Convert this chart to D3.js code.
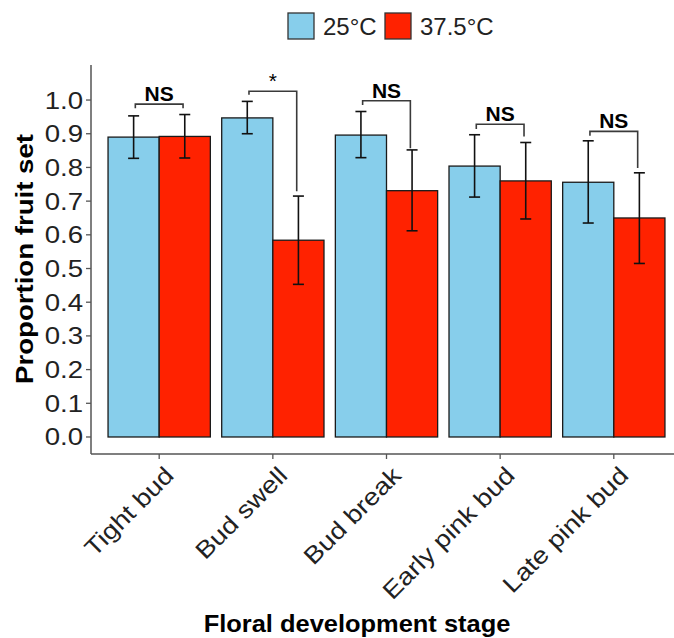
<!DOCTYPE html>
<html>
<head>
<meta charset="utf-8">
<script src="https://d3js.org/d3.v7.min.js"></script>
<style>
	body{margin:0;background:#fff;}
	text{font-family:"Liberation Sans", Arial, sans-serif;}
</style>
</head>
<body>
<div id="chart"></div>
<script>
var stages = ["Tight bud", "Bud swell", "Bud break", "Early pink bud", "Late pink bud"];
var temps = ["25°C", "37.5°C"];
var colors = ["#87ceeb", "#ff2200"];

var mean25 = [0.890, 0.947, 0.896, 0.804, 0.756];
var low25  = [0.827, 0.900, 0.829, 0.712, 0.635];
var high25 = [0.953, 0.996, 0.966, 0.897, 0.879];

var mean37 = [0.892, 0.584, 0.731, 0.760, 0.650];
var low37  = [0.828, 0.453, 0.612, 0.647, 0.515];
var high37 = [0.957, 0.715, 0.852, 0.874, 0.784];

var bracketTop   = [0.988, 1.026, 0.998, 0.928, 0.907];
var bracketLeft  = [0.976, 1.016, 0.985, 0.914, 0.894];
var bracketRight = [0.976, 0.729, 0.857, 0.892, 0.798];
var bracketLabel = ["NS", "*", "NS", "NS", "NS"];

var yTicks = [0.0, 0.1, 0.2, 0.3, 0.4, 0.5, 0.6, 0.7, 0.8, 0.9, 1.0];

drawChart();

function drawChart(){
	var width = 674;
	var height = 638;
	var pLeft = 91, pRight = 682, pTop = 65, pBottom = 454;

	var svg = d3.select("#chart")
					.append("svg")
					.attr("width", width+"px")
					.attr("height", height+"px");

	var x = d3.scaleBand()
				.domain(stages)
				.range([pLeft, pRight])
				.paddingInner(0)
				.paddingOuter(0.1);

	var step = x.step();

	var xGroup = d3.scaleBand()
				.domain(temps)
				.range([-0.45*step, 0.45*step]);

	var y = d3.scaleLinear()
				.domain([-0.0505, 1.104])
				.range([pBottom, pTop]);

	var flat = [];
	stages.forEach(function(s,i){
		flat.push({stage:s, temp:temps[0], mean:mean25[i], low:low25[i], high:high25[i], c:colors[0]});
		flat.push({stage:s, temp:temps[1], mean:mean37[i], low:low37[i], high:high37[i], c:colors[1]});
	});

	function barX(d){ return x(d.stage) + step/2 + xGroup(d.temp); }
	function barMid(d){ return barX(d) + xGroup.bandwidth()/2; }

	// bars
	svg.append("g").selectAll("rect")
		.data(flat)
		.enter()
		.append("rect")
		.attr("x", barX)
		.attr("y", function(d){ return y(d.mean); })
		.attr("width", xGroup.bandwidth())
		.attr("height", function(d){ return y(0) - y(d.mean); })
		.attr("fill", function(d){ return d.c; })
		.attr("stroke", "#1a1a1a")
		.attr("stroke-width", 1.3);

	// error bars
	var capW = 5.5;
	var err = svg.append("g")
					.attr("stroke", "#111")
					.attr("stroke-width", 1.6);

	err.selectAll("line.v")
		.data(flat)
		.enter()
		.append("line")
		.attr("class", "v")
		.attr("x1", barMid).attr("x2", barMid)
		.attr("y1", function(d){ return y(d.low); })
		.attr("y2", function(d){ return y(d.high); });

	err.selectAll("line.t")
		.data(flat)
		.enter()
		.append("line")
		.attr("class", "t")
		.attr("x1", function(d){ return barMid(d)-capW; })
		.attr("x2", function(d){ return barMid(d)+capW; })
		.attr("y1", function(d){ return y(d.high); })
		.attr("y2", function(d){ return y(d.high); });

	err.selectAll("line.b")
		.data(flat)
		.enter()
		.append("line")
		.attr("class", "b")
		.attr("x1", function(d){ return barMid(d)-capW; })
		.attr("x2", function(d){ return barMid(d)+capW; })
		.attr("y1", function(d){ return y(d.low); })
		.attr("y2", function(d){ return y(d.low); });

	// significance brackets
	var legOff = 0.21*step;
	var br = svg.append("g");
	stages.forEach(function(s,i){
		var cx = x(s) + step/2;
		br.append("path")
			.attr("d", "M" + (cx-legOff) + "," + y(bracketLeft[i]) +
						"V" + y(bracketTop[i]) +
						"H" + (cx+legOff) +
						"V" + y(bracketRight[i]))
			.attr("fill", "none")
			.attr("stroke", "#3a3a3a")
			.attr("stroke-width", 1.6);

		br.append("text")
			.attr("text-anchor", "middle")
			.attr("x", cx)
			.attr("y", y(bracketTop[i]) - 3)
			.style("font-size", 21+"px")
			.style("font-weight", bracketLabel[i] == "*" ? "normal" : "bold")
			.attr("fill", "#000")
			.text(bracketLabel[i]);
	});

	// axes
	var axisColor = "#555";
	svg.append("line")
		.attr("x1", pLeft).attr("x2", pLeft)
		.attr("y1", pTop).attr("y2", pBottom)
		.attr("stroke", axisColor)
		.attr("stroke-width", 1.5);

	svg.append("line")
		.attr("x1", pLeft).attr("x2", pRight)
		.attr("y1", pBottom).attr("y2", pBottom)
		.attr("stroke", axisColor)
		.attr("stroke-width", 1.5);

	var yAxis = svg.append("g");
	yAxis.selectAll("line")
		.data(yTicks)
		.enter()
		.append("line")
		.attr("x1", pLeft-5).attr("x2", pLeft)
		.attr("y1", function(d){ return y(d); })
		.attr("y2", function(d){ return y(d); })
		.attr("stroke", axisColor)
		.attr("stroke-width", 1.3);

	yAxis.selectAll("text")
		.data(yTicks)
		.enter()
		.append("text")
		.attr("text-anchor", "end")
		.attr("transform", function(d){ return "translate(" + (pLeft-8) + "," + (y(d)+8.5) + ") scale(1.15,1)"; })
		.style("font-size", 24+"px")
		.attr("fill", "#222")
		.text(function(d){ return d3.format(".1f")(d); });

	var xAxis = svg.append("g");
	xAxis.selectAll("line")
		.data(stages)
		.enter()
		.append("line")
		.attr("x1", function(d){ return x(d)+step/2; })
		.attr("x2", function(d){ return x(d)+step/2; })
		.attr("y1", pBottom).attr("y2", pBottom+5)
		.attr("stroke", axisColor)
		.attr("stroke-width", 1.3);

	xAxis.selectAll("text")
		.data(stages)
		.enter()
		.append("text")
		.attr("text-anchor", "end")
		.attr("transform", function(d){
			return "translate(" + (x(d)+step/2+16) + "," + (pBottom+23) + ") rotate(-45) scale(1.15,1)";
		})
		.style("font-size", 24+"px")
		.attr("fill", "#222")
		.text(function(d){ return d; });

	// axis titles
	svg.append("text")
		.attr("text-anchor", "middle")
		.attr("transform", "translate(357,632) scale(1.06,1)")
		.style("font-size", 24+"px")
		.style("font-weight", "bold")
		.attr("fill", "#000")
		.text("Floral development stage");

	svg.append("text")
		.attr("text-anchor", "middle")
		.attr("transform", "translate(33,259) rotate(-90) scale(1.15,1)")
		.style("font-size", 24+"px")
		.style("font-weight", "bold")
		.attr("fill", "#000")
		.text("Proportion fruit set");

	// legend
	var legX = [288, 385];
	var leg = svg.append("g");
	temps.forEach(function(t,i){
		leg.append("rect")
			.attr("x", legX[i])
			.attr("y", 13)
			.attr("width", 26)
			.attr("height", 26)
			.attr("fill", colors[i])
			.attr("stroke", "#333")
			.attr("stroke-width", 1.3);
		leg.append("text")
			.attr("x", legX[i] + 35)
			.attr("y", 35)
			.style("font-size", 24+"px")
			.attr("fill", "#222")
			.text(t);
	});
};
</script>
</body>
</html>
